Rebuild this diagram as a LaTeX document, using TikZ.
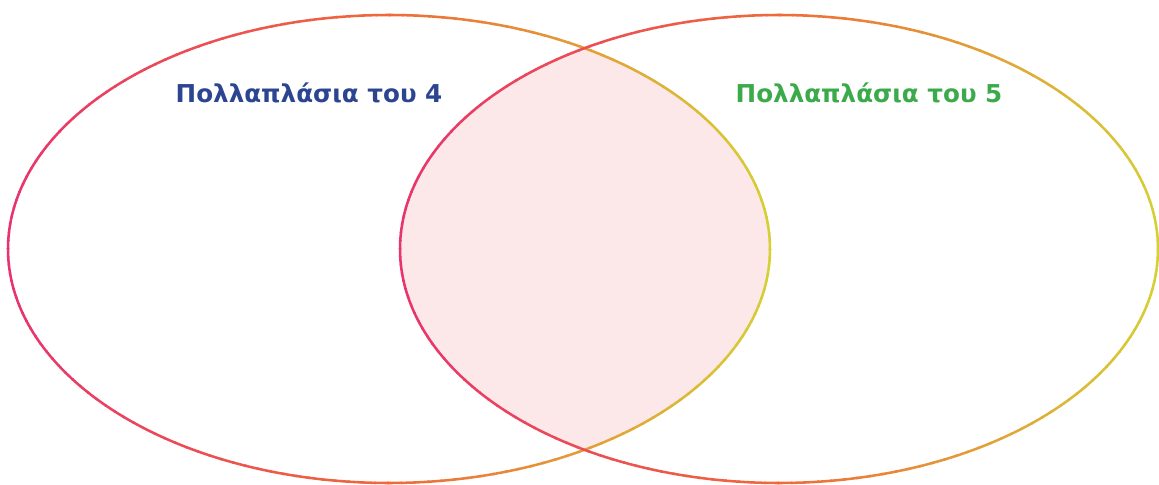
\documentclass[tikz,border=0pt]{standalone}
\usepackage{fontspec}
\setmainfont{DejaVu Sans}
\usetikzlibrary{calc,positioning}
\definecolor{vennpink}{HTML}{E8336E}
\definecolor{vennorange}{HTML}{EF6A3A}
\definecolor{vennyellow}{HTML}{D6CF35}
\definecolor{vennfill}{HTML}{FCE8E9}
\definecolor{lblblue}{HTML}{2B4590}
\definecolor{lblgreen}{HTML}{3BAA4A}
\newcommand{\vennring}[3]{%
  % ring drawn in short arcs: yellow on the right, orange on top, pink on the left
  \foreach \a in {0,2,...,358}{
    \pgfmathsetmacro{\d}{acos(cos(\a+1))}
    \ifdim\d pt<90pt
      \pgfmathsetmacro{\p}{(1-cos(\d))*100}
      \colorlet{ringcol}{vennorange!\p!vennyellow}
    \else
      \pgfmathsetmacro{\p}{sin(\d-90)*100}
      \colorlet{ringcol}{vennpink!\p!vennorange}
    \fi
    \draw[ring, ringcol] ($(#1)+(\a:#2 and #3)$)
      arc[start angle=\a, end angle=\a+2.2, x radius=#2, y radius=#3];
  }
}

\begin{document}
\begin{tikzpicture}[
    x=0.025cm, y=-0.025cm,
    ring/.style={line width=1.8pt, line cap=round},
    lbl/.style={font=\bfseries\fontsize{17.5}{20}\selectfont, anchor=base},
]
\useasboundingbox (0,0) rectangle (1159,485);

\coordinate (c4) at (389,249);
\coordinate (c5) at (779,249);

% ---------- common part ----------
\begin{scope}
  \clip (c4) ellipse [x radius=381, y radius=234];
  \fill[vennfill] (c5) ellipse [x radius=379, y radius=234];
\end{scope}

% ---------- the two sets ----------
\vennring{c4}{381}{234}
\vennring{c5}{379}{234}

\node[lbl, text=lblblue]  (lbl4) at (309,103) {Πολλαπλάσια του 4};
\node[lbl, text=lblgreen] (lbl5) at (869,103) {Πολλαπλάσια του 5};

\end{tikzpicture}
\end{document}
